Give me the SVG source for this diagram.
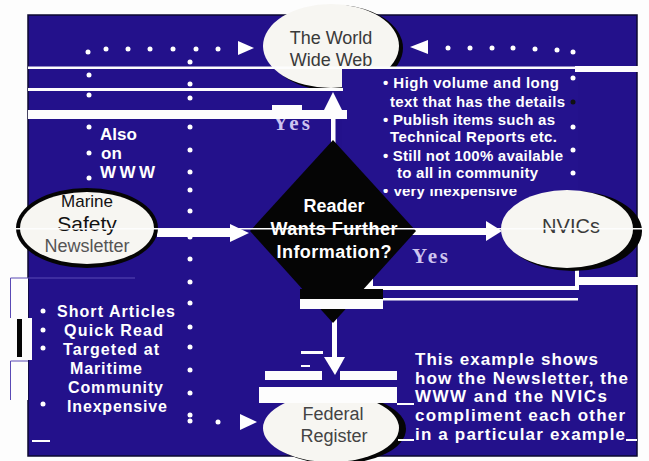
<svg xmlns="http://www.w3.org/2000/svg" width="649" height="461" viewBox="0 0 649 461">
  <style>
    .panel { fill: #23118b; stroke: #0d0830; stroke-width: 1.5; }
    .oval { fill: #f7f6f2; }
    .oval-shadow { fill: #050505; }
    .lbl { font-family: "Liberation Sans", Arial, sans-serif; fill: #3a3a3a; text-anchor: middle; }
    .wtxt { font-family: "Liberation Sans", Arial, sans-serif; font-weight: bold; fill: #ffffff; }
    .yes { font-family: "Liberation Serif", "Times New Roman", serif; font-weight: bold; fill: #cdc4f0; }
    .dot { fill: #ffffff; }
    .arw { fill: #ffffff; }
    .band { fill: #fdfdfd; }
  </style>
  <defs>
    <clipPath id="lastRow">
      <rect x="340" y="189" width="240" height="12"/>
    </clipPath>
  </defs>

  <!-- page and slide panel -->
  <rect x="0" y="0" width="649" height="461" fill="#fdfdfd"/>
  <rect class="panel" x="28" y="15" width="609" height="441"/>

  <!-- The World Wide Web -->
  <g id="node-www">
    <ellipse class="oval-shadow" cx="335" cy="48" rx="68" ry="43"/>
    <ellipse class="oval" cx="331" cy="46" rx="68" ry="42"/>
    <text class="lbl" x="331" y="44" font-size="18">The World</text>
    <text class="lbl" x="331" y="66" font-size="18">Wide Web</text>
  </g>

  <!-- background block behind the web notes -->
  <rect x="342" y="69" width="236" height="121" fill="#24128d"/>

  <!-- connectors -->
  <g id="connectors">
    <!-- dotted route: newsletter column up to the web -->
    <g class="dot">
      <circle cx="88" cy="52" r="2.5"/><circle cx="106" cy="49" r="2.5"/><circle cx="128" cy="49" r="2.5"/>
      <circle cx="150" cy="49" r="2.5"/><circle cx="173" cy="49" r="2.5"/><circle cx="196" cy="49" r="2.5"/>
      <circle cx="218" cy="49" r="2.5"/>
      <circle cx="89" cy="75" r="2.5"/><circle cx="89" cy="95" r="2.5"/><circle cx="89" cy="127" r="2.5"/>
      <circle cx="89" cy="153" r="2.5"/><circle cx="89" cy="178" r="2.5"/>
    </g>
    <polygon class="arw" points="238,41 254,48 238,55"/>

    <!-- dotted route: middle column down to the register -->
    <g class="dot">
      <circle cx="190" cy="62" r="2.5"/><circle cx="190" cy="84" r="2.5"/><circle cx="190" cy="98" r="2.5"/>
      <circle cx="190" cy="127" r="2.5"/><circle cx="190" cy="150" r="2.5"/><circle cx="190" cy="172" r="2.5"/>
      <circle cx="190" cy="190" r="2.5"/><circle cx="190" cy="211" r="2.5"/><circle cx="190" cy="237" r="2.5"/>
      <circle cx="190" cy="259" r="2.5"/><circle cx="190" cy="282" r="2.5"/><circle cx="190" cy="303" r="2.5"/>
      <circle cx="190" cy="327" r="2.5"/><circle cx="190" cy="347" r="2.5"/><circle cx="190" cy="370" r="2.5"/>
      <circle cx="190" cy="393" r="2.5"/><circle cx="190" cy="415" r="2.5"/><circle cx="190" cy="421" r="2.5"/>
      <circle cx="218" cy="422" r="2.5"/>
    </g>
    <polygon class="arw" points="240,414 257,422 240,430"/>

    <!-- dotted route: NVIC column up to the web -->
    <g class="dot">
      <circle cx="448" cy="48" r="2.5"/><circle cx="470" cy="48" r="2.5"/><circle cx="492" cy="48" r="2.5"/>
      <circle cx="513" cy="48" r="2.5"/><circle cx="535" cy="49" r="2.5"/><circle cx="557" cy="50" r="2.5"/>
      <circle cx="573" cy="52" r="2.5"/>
      <circle cx="573" cy="78" r="2.5"/><circle cx="573" cy="102" r="2.5" fill="#111"/><circle cx="573" cy="127" r="2.5"/>
      <circle cx="573" cy="150" r="2.5"/><circle cx="573" cy="173" r="2.5"/>
    </g>
    <polygon class="arw" points="428,40 410,47 428,54"/>

    <!-- solid arrows -->
    <rect class="arw" x="331" y="106" width="4.5" height="46"/>
    <polygon class="arw" points="324,110 342,110 333,92"/>

    <rect class="arw" x="157" y="229" width="75" height="8"/>
    <polygon class="arw" points="230,224 249,233 230,242"/>

    <rect class="arw" x="412" y="228" width="76" height="7"/>
    <polygon class="arw" points="486,221 502,231 486,241"/>

    <path d="M577,268 V288 H370" fill="none" stroke="#ffffff" stroke-width="4"/>
    <polygon class="arw" points="373,278 354,287 373,296"/>

    <rect class="arw" x="332" y="312" width="5" height="48"/>
    <polygon class="arw" points="324,357 345,357 335,375"/>
  </g>

  <!-- decision -->
  <g id="node-decision">
    <polygon points="333,140 416,231 333,323 250,231" fill="#050505"/>
    <text class="wtxt" x="334" y="212" font-size="18" text-anchor="middle">Reader</text>
    <text class="wtxt" x="334" y="235" font-size="18" text-anchor="middle" textLength="127">Wants Further</text>
    <text class="wtxt" x="334" y="258" font-size="18" text-anchor="middle" textLength="115">Information?</text>
  </g>

  <!-- Marine Safety Newsletter -->
  <g id="node-newsletter">
    <ellipse cx="87" cy="228" rx="71" ry="40" fill="#050505"/>
    <ellipse class="oval" cx="87" cy="228" rx="67" ry="36"/>
    <text class="lbl" x="87" y="207" font-size="17" fill="#111" style="fill:#111">Marine</text>
    <text class="lbl" x="87" y="231" font-size="21" style="fill:#111">Safety</text>
    <text class="lbl" x="87" y="252" font-size="18" style="fill:#555">Newsletter</text>
  </g>

  <!-- NVICs -->
  <g id="node-nvics">
    <ellipse class="oval-shadow" cx="573" cy="231" rx="69" ry="40"/>
    <ellipse class="oval" cx="567" cy="229" rx="66" ry="39"/>
    <text class="lbl" x="571" y="233" font-size="20">NVICs</text>
  </g>

  <!-- Federal Register -->
  <g id="node-register">
    <ellipse class="oval-shadow" cx="336" cy="429" rx="70" ry="35"/>
    <ellipse class="oval" cx="331" cy="428" rx="68" ry="34"/>
    <text class="lbl" x="333" y="420" font-size="18" style="fill:#444">Federal</text>
    <text class="lbl" x="334" y="442" font-size="18" style="fill:#444">Register</text>
  </g>

  <!-- Yes labels -->
  <text class="yes" x="273" y="130" font-size="21" textLength="37">Yes</text>
  <text class="yes" x="412" y="263" font-size="21" textLength="36">Yes</text>

  <!-- notes -->
  <g id="note-also">
    <text class="wtxt" x="100" y="140" font-size="17" textLength="37">Also</text>
    <text class="wtxt" x="101" y="159" font-size="17">on</text>
    <text class="wtxt" x="100" y="178" font-size="17" textLength="55">WWW</text>
  </g>

  <g id="note-www" font-size="15">
    <text class="wtxt" x="383" y="88" textLength="176">• High volume and long</text>
    <text class="wtxt" x="390" y="107" textLength="175">text that has the details</text>
    <text class="wtxt" x="383" y="125" textLength="172">• Publish items such as</text>
    <text class="wtxt" x="390" y="142" textLength="167">Technical Reports etc.</text>
    <text class="wtxt" x="383" y="161" textLength="180">• Still not 100% available</text>
    <text class="wtxt" x="397" y="178" textLength="141">to all in community</text>
    <text class="wtxt" x="383" y="196" textLength="134" clip-path="url(#lastRow)">• Very inexpensive</text>
  </g>

  <g id="note-newsletter" font-size="16">
    <g class="dot">
      <circle cx="43" cy="311" r="2.5"/><circle cx="43" cy="330" r="2.5"/>
      <circle cx="43" cy="348" r="2.5"/><circle cx="43" cy="404" r="2.5"/>
    </g>
    <text class="wtxt" x="57" y="317" textLength="118">Short Articles</text>
    <text class="wtxt" x="64" y="336" textLength="99">Quick Read</text>
    <text class="wtxt" x="63" y="355" textLength="96">Targeted at</text>
    <text class="wtxt" x="70" y="374" textLength="72">Maritime</text>
    <text class="wtxt" x="68" y="393" textLength="95">Community</text>
    <text class="wtxt" x="67" y="412" textLength="100">Inexpensive</text>
  </g>

  <g id="note-caption" font-size="17">
    <text class="wtxt" x="415" y="365" textLength="183">This example shows</text>
    <text class="wtxt" x="415" y="384" textLength="213">how the Newsletter, the</text>
    <text class="wtxt" x="415" y="402" textLength="192">WWW and the NVICs</text>
    <text class="wtxt" x="415" y="421" textLength="210">compliment each other</text>
    <text class="wtxt" x="415" y="440" textLength="210">in a particular example</text>
  </g>

  <!-- light horizontal bands across the slide -->
  <g id="white-bands">
    <rect class="band" x="28" y="66.5" width="547" height="2.5"/>
    <rect class="band" x="575" y="66" width="74" height="6"/>
    <rect class="band" x="28" y="88" width="315" height="3"/>
    <rect class="band" x="272" y="105" width="30" height="5"/>
    <rect class="band" x="28" y="110" width="319" height="9"/>
    <rect class="band" x="15" y="228" width="634" height="1.5"/>
    <rect class="band" x="578" y="277" width="71" height="8"/>
    <rect class="band" x="320" y="298" width="258" height="2.5"/>
    <rect x="300" y="289" width="83" height="10" fill="#050505"/>
    <rect class="band" x="300" y="299" width="83" height="10"/>
    <rect class="band" x="301" y="351" width="22" height="3"/>
    <rect class="band" x="301" y="365" width="9" height="2"/>
    <rect class="band" x="265" y="371" width="57" height="9"/>
    <rect class="band" x="340" y="371" width="57" height="9"/>
    <rect class="band" x="259" y="387" width="138" height="16"/>
    <rect class="band" x="397" y="403" width="17" height="2"/>
    <rect class="band" x="398" y="439" width="16" height="2"/>
    <rect class="band" x="626" y="439" width="11" height="2"/>
    <rect class="band" x="10" y="278" width="18" height="122"/>
    <rect class="band" x="10" y="318" width="22" height="42"/>
    <rect x="17" y="319" width="5" height="38" fill="#050505"/>
    <path d="M10.5,318 V278 H135 M10.5,400 V361 H28" fill="none" stroke="#5a4ab5" stroke-width="1"/>
    <rect class="band" x="32" y="440" width="18" height="2"/>
  </g>
</svg>
